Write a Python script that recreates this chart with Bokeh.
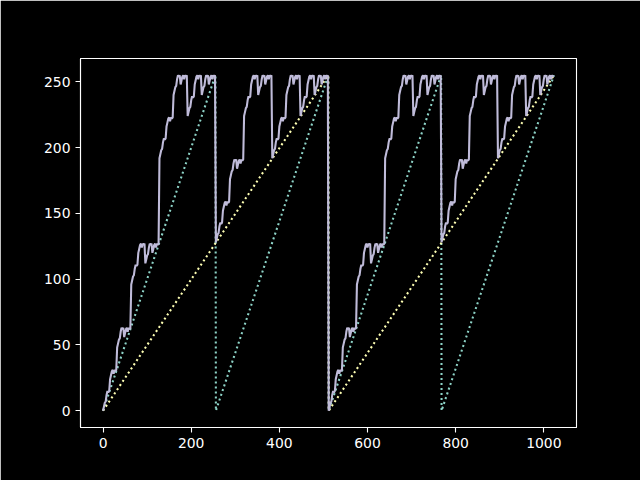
from bokeh.plotting import figure
from bokeh.models import Range1d, FixedTicker
from bokeh.embed import file_html
from bokeh.resources import INLINE

# Series 1 (teal dotted): sawtooth with period 256
green_x = [0, 255, 256, 511, 512, 767, 768, 1023]
green_y = [0, 255, 0, 255, 0, 255, 0, 255]

# Series 2 (yellow dotted): sawtooth with period 512
yellow_x = [0, 511, 512, 1023]
yellow_y = [0, 255, 0, 255]

# Series 3 (lavender solid): stepped curve, sampled every 2 units of x
purple_x = list(range(0, 1024, 2))
purple_first_half = [
    0, 3, 6, 7, 12, 15, 14, 15,
    24, 27, 30, 31, 28, 31, 30, 31,
    48, 51, 54, 55, 60, 63, 62, 63, 56, 59, 62, 63, 60, 63, 62, 63,
    96, 99, 102, 103, 108, 111, 110, 111, 120, 123, 126, 127, 124, 127, 126, 127,
    112, 115, 118, 119, 124, 127, 126, 127, 120, 123, 126, 127, 124, 127, 126, 127,
    192, 195, 198, 199, 204, 207, 206, 207, 216, 219, 222, 223, 220, 223, 222, 223,
    240, 243, 246, 247, 252, 255, 254, 255, 248, 251, 254, 255, 252, 255, 254, 255,
    224, 227, 230, 231, 236, 239, 238, 239, 248, 251, 254, 255, 252, 255, 254, 255,
    240, 243, 246, 247, 252, 255, 254, 255, 248, 251, 254, 255, 252, 255, 254, 255,
    128, 131, 134, 135, 140, 143, 142, 143,
    152, 155, 158, 159, 156, 159, 158, 159,
    176, 179, 182, 183, 188, 191, 190, 191, 184, 187, 190, 191, 188, 191, 190, 191,
    224, 227, 230, 231, 236, 239, 238, 239, 248, 251, 254, 255, 252, 255, 254, 255,
    240, 243, 246, 247, 252, 255, 254, 255, 248, 251, 254, 255, 252, 255, 254, 255,
    192, 195, 198, 199, 204, 207, 206, 207, 216, 219, 222, 223, 220, 223, 222, 223,
    240, 243, 246, 247, 252, 255, 254, 255, 248, 251, 254, 255, 252, 255, 254, 255,
    224, 227, 230, 231, 236, 239, 238, 239, 248, 251, 254, 255, 252, 255, 254, 255,
    240, 243, 246, 247, 252, 255, 254, 255, 248, 251, 254, 255, 252, 255, 254, 255,
]
purple_second_half = [
    0, 3, 6, 7, 12, 15, 14, 15,
    24, 27, 30, 31, 28, 31, 30, 31,
    48, 51, 54, 55, 60, 63, 62, 63, 56, 59, 62, 63, 60, 63, 62, 63,
    96, 99, 102, 103, 108, 111, 110, 111, 120, 123, 126, 127, 124, 127, 126, 127,
    112, 115, 118, 119, 124, 127, 126, 127, 120, 123, 126, 127, 124, 127, 126, 127,
    192, 195, 198, 199, 204, 207, 206, 207, 216, 219, 222, 223, 220, 223, 222, 223,
    240, 243, 246, 247, 252, 255, 254, 255, 248, 251, 254, 255, 252, 255, 254, 255,
    224, 227, 230, 231, 236, 239, 238, 239, 248, 251, 254, 255, 252, 255, 254, 255,
    240, 243, 246, 247, 252, 255, 254, 255, 248, 251, 254, 255, 252, 255, 254, 255,
    128, 131, 134, 135, 140, 143, 142, 143,
    152, 155, 158, 159, 156, 159, 158, 159,
    176, 179, 182, 183, 188, 191, 190, 191, 184, 187, 190, 191, 188, 191, 190, 191,
    224, 227, 230, 231, 236, 239, 238, 239, 248, 251, 254, 255, 252, 255, 254, 255,
    240, 243, 246, 247, 252, 255, 254, 255, 248, 251, 254, 255, 252, 255, 254, 255,
    192, 195, 198, 199, 204, 207, 206, 207, 216, 219, 222, 223, 220, 223, 222, 223,
    240, 243, 246, 247, 252, 255, 254, 255, 248, 251, 254, 255, 252, 255, 254, 255,
    224, 227, 230, 231, 236, 239, 238, 239, 248, 251, 254, 255, 252, 255, 254, 255,
    240, 243, 246, 247, 252, 255, 254, 255, 248, 251, 254, 255, 252, 255, 254, 255,
]
purple_y = purple_first_half + purple_second_half

x_ticks = [0, 200, 400, 600, 800, 1000]
y_ticks = [0, 50, 100, 150, 200, 250]

p = figure(
    width=640, height=480,
    frame_width=496, frame_height=369,
    min_border_left=80, min_border_right=64,
    min_border_top=58, min_border_bottom=53,
    x_range=Range1d(-51.15, 1074.15), y_range=Range1d(-12.75, 267.75),
    output_backend="svg", toolbar_location=None,
)
p.background_fill_color = "black"
p.border_fill_color = "black"
p.outline_line_color = "white"
p.outline_line_width = 1.1
p.grid.visible = False

for ax in (p.xaxis, p.yaxis):
    ax.axis_line_color = "white"
    ax.axis_line_width = 1.1
    ax.major_tick_line_color = "white"
    ax.major_tick_line_width = 1.1
    ax.major_tick_out = 5
    ax.major_tick_in = 0
    ax.minor_tick_line_color = None
    ax.major_label_text_color = "white"
    ax.major_label_text_font = "DejaVu Sans"
    ax.major_label_text_font_size = "13.9px"
    ax.major_label_standoff = 5
p.xaxis.ticker = FixedTicker(ticks=x_ticks)
p.yaxis.ticker = FixedTicker(ticks=y_ticks)

p.line(green_x, green_y, line_color="#8dd3c7", line_width=2.08, line_dash="2 3")
p.line(yellow_x, yellow_y, line_color="#feffb3", line_width=2.08, line_dash="2 3")
p.line(purple_x, purple_y, line_color="#bfbbd9", line_width=2.08)

html = file_html(p, INLINE)
html = html.replace("<body>", '<body style="background-color:#000000;">', 1)
open("out.html", "w").write(html)
